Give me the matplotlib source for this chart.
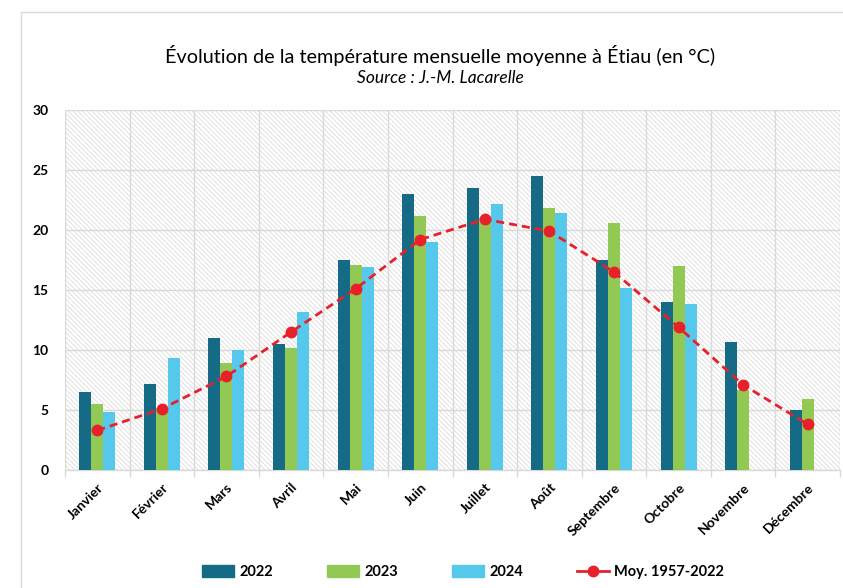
import numpy as np
import matplotlib
matplotlib.use('Agg')
import matplotlib.pyplot as plt
from matplotlib.patches import Rectangle, Patch
from matplotlib.lines import Line2D

# === Data ===
mois = ['Janvier', 'Février', 'Mars', 'Avril', 'Mai', 'Juin', 'Juillet',
        'Août', 'Septembre', 'Octobre', 'Novembre', 'Décembre']
t2022 = [6.5, 7.2, 11.0, 10.5, 17.5, 23.0, 23.5, 24.5, 17.5, 14.0, 10.7, 5.0]
t2023 = [5.5, 5.2, 8.9, 10.2, 17.1, 21.2, 21.0, 21.8, 20.6, 17.0, 6.7, 5.9]
t2024 = [4.8, 9.3, 10.0, 13.2, 16.9, 19.0, 22.2, 21.4, 15.2, 13.8, np.nan, np.nan]
moyenne = [3.3, 5.1, 7.8, 11.5, 15.1, 19.2, 20.9, 19.9, 16.5, 11.9, 7.1, 3.8]

c2022 = '#156B86'
c2023 = '#92C955'
c2024 = '#55C8EC'
cmoy = '#E8202A'
grid_c = '#D9D9D9'

plt.rcParams['font.family'] = ['Lato', 'DejaVu Sans']
plt.rcParams['hatch.linewidth'] = 0.5

W, H = 843, 588
fig = plt.figure(figsize=(W / 100, H / 100), dpi=100)
ax = fig.add_axes([65 / W, 1 - 470 / H, 775 / W, 360 / H])

# outer frame of the chart
fig.patches.append(Rectangle((21 / W, -0.01), 1, 1 - 12 / H + 0.01, transform=fig.transFigure,
                             fill=False, edgecolor=grid_c, lw=1))

# hatched plot background
ax.add_patch(Rectangle((0, 0), 1, 1, transform=ax.transAxes, facecolor='white',
                       edgecolor='#D6D6D6', hatch='\\' * 7, lw=0, zorder=0))

x = np.arange(len(mois))
w = 0.186
ax.bar(x - w, t2022, w, color=c2022, zorder=3)
ax.bar(x, t2023, w, color=c2023, zorder=3)
ax.bar(x + w, t2024, w, color=c2024, zorder=3)
ax.plot(x, moyenne, color=cmoy, lw=2, ls=(0, (2.9, 1.8)), marker='o', ms=7.5, zorder=4)

ax.set_xlim(-0.5, 11.5)
ax.set_ylim(0, 30)
ax.set_yticks(range(0, 31, 5))
ax.set_xticks(x)
ax.set_xticks(np.arange(-0.5, 12, 1), minor=True)
ax.set_xticklabels(mois, rotation=45, ha='right', rotation_mode='anchor',
                   fontsize=10, fontweight='bold')
for lab in ax.get_yticklabels():
    lab.set_fontweight('bold')
    lab.set_fontsize(10)
ax.tick_params(axis='x', which='major', length=0, pad=8)
ax.tick_params(axis='x', which='minor', length=5, color=grid_c, width=1)
ax.tick_params(axis='y', length=0, pad=12)
ax.grid(axis='y', color=grid_c, lw=1, zorder=1)
ax.grid(axis='x', which='minor', color=grid_c, lw=1, zorder=1)
ax.set_axisbelow(True)
for s in ['top', 'right', 'left']:
    ax.spines[s].set_visible(False)
ax.spines['bottom'].set_color(grid_c)
ax.spines['bottom'].set_linewidth(1)

# titles
fig.text(440 / W, 1 - 55 / H, 'Évolution de la température mensuelle moyenne à Étiau (en °C)',
         ha='center', va='center', fontsize=14.3)
fig.text(440 / W, 1 - 78 / H, 'Source : J.-M. Lacarelle', ha='center', va='center',
         fontsize=12.5, style='italic')

# legend
handles = [Patch(color=c2022), Patch(color=c2023), Patch(color=c2024),
           Line2D([], [], color=cmoy, lw=2, marker='o', ms=7.5)]
labels = ['2022', '2023', '2024', 'Moy. 1957-2022']
fig.legend(handles, labels, loc='center', bbox_to_anchor=(463 / W, 1 - 572 / H), ncol=4,
           frameon=False, prop={'weight': 'bold', 'size': 10.5}, handlelength=2.2,
           handleheight=0.8, columnspacing=3.7, handletextpad=0.35)

fig.savefig('out.png', dpi=100)
